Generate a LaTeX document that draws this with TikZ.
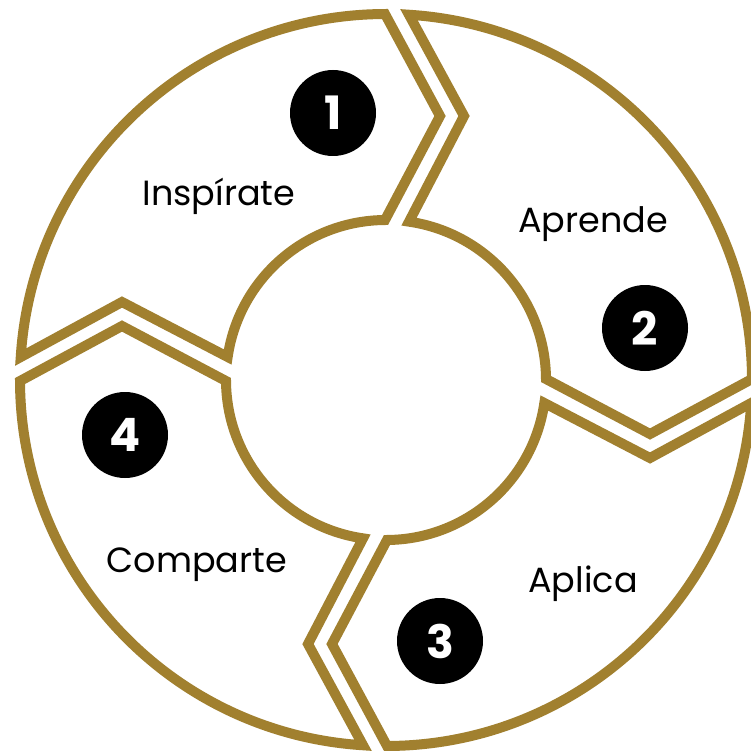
\documentclass[tikz,border=0pt]{standalone}
\usepackage{fontspec}
\setmainfont{Poppins}
\definecolor{gold}{RGB}{161,128,47}
\begin{document}
\begin{tikzpicture}[x=1pt,y=1pt,
  seg/.style={draw=gold, line width=10pt, line join=miter},
  num/.style={circle, fill=black, minimum size=86pt, inner sep=0pt, text=white,
    font=\fontsize{46}{46}\selectfont\bfseries},
  lbl/.style={font=\fontsize{35}{35}\selectfont, text=black, anchor=base, inner sep=0pt}]
\fill[white] (0,0) rectangle (750,-751);
\useasboundingbox (0,0) rectangle (750,-751);
\begin{scope}[shift={(386,-380)}]
\foreach \r in {0,-90,-180,-270}{
  \draw[seg, rotate=\r] (176.4:366) arc[start angle=176.4, end angle=90.16, radius=366]
    -- (54,264) -- (90.36:160) arc[start angle=90.36, end angle=171.73, radius=160]
    -- (-264,78) -- cycle;
}
\end{scope}
\node[num] (n1) at (333,-113) {1};
\node[num] (n2) at (645,-328) {2};
\node[num] (n3) at (440,-641) {3};
\node[num] (n4) at (125,-435) {4};
\node[lbl] (l1) at (219,-205) {Inspírate};
\node[lbl] (l2) at (593,-232) {Aprende};
\node[lbl] (l3) at (583,-592) {Aplica};
\node[lbl] (l4) at (197,-572) {Comparte};
\end{tikzpicture}
\end{document}
